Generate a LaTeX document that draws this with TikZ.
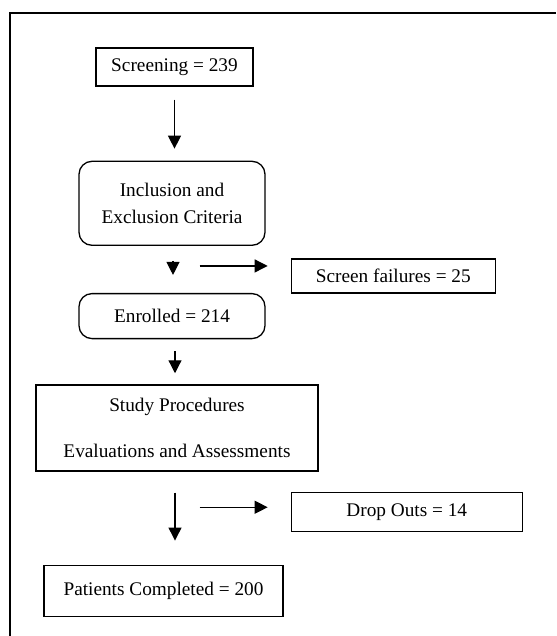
\documentclass[tikz,border=0pt]{standalone}
\usepackage{fontspec}
\setmainfont{Liberation Serif}
\usetikzlibrary{arrows.meta,positioning}
\tikzstyle{block} = [
  rectangle, draw, line width = 0.65pt, text centered, inner sep = 0pt,
  font = \fontsize{9.64}{11.5}\selectfont, align = center
]
\tikzstyle{rblock} = [block, rounded corners = 6.5pt]
\tikzstyle{arr} = [
  line width = 0.6pt, -{Triangle[length=6.5pt, width=6.5pt]}
]

\begin{document}
\begin{tikzpicture}
    \useasboundingbox (0,0) rectangle (278pt,-318pt);
    \draw[line width = 0.6pt] (5pt,-318pt) -- (5pt,-6.5pt) -- (278pt,-6.5pt);

    \node[block, minimum width = 78.5pt, minimum height = 19pt] (screen)
      at (87.25pt,-33.5pt) {Screening = 239};
    \node[rblock, below=37pt of screen, xshift=-1.25pt,
      minimum width = 93pt, minimum height = 42pt] (incl)
      {Inclusion and\\[2pt]Exclusion Criteria};
    \node[rblock, below=23.5pt of incl,
      minimum width = 93pt, minimum height = 22.5pt] (enrol) {Enrolled = 214};
    \node[block, right=12.5pt of enrol.north east, yshift=8.5pt,
      minimum width = 102pt, minimum height = 17pt] (sfail) {Screen failures = 25};
    \node[block, below=22.5pt of enrol, xshift=2.5pt,
      minimum width = 141pt, minimum height = 43pt] (study)
      {Study Procedures\\[11.5pt]Evaluations and Assessments};
    \node[block, below=99pt of sfail.south west, anchor=north west,
      minimum width = 115.5pt, minimum height = 19.5pt] (drop) {Drop Outs = 14};
    \node[block, below=46.5pt of study, xshift=-6.75pt,
      minimum width = 119.5pt, minimum height = 25.5pt] (patient)
      {Patients Completed = 200};

    \coordinate[left=45.5pt of sfail.west, yshift=5pt] (failtail);
    \coordinate[left=45.5pt of drop.west, yshift=2.25pt] (droptail);

    \draw[arr, shorten <=6.5pt, shorten >=6pt] (screen.south) -- (screen.south |- incl.north);
    \draw[arr, shorten <=7.5pt, shorten >=9pt] ([xshift=0.5pt]incl.south) -- ([xshift=0.5pt]incl.south |- enrol.north);
    \draw[arr, shorten >=11.5pt] (failtail) -- (failtail -| sfail.west);
    \draw[arr, shorten <=6pt, shorten >=5.5pt] ([xshift=1.5pt]enrol.south) -- ([xshift=1.5pt]enrol.south |- study.north);
    \draw[arr, shorten <=10.5pt, shorten >=12pt] ([xshift=-1pt]study.south) -- ([xshift=-1pt]study.south |- patient.north);
    \draw[arr, shorten >=11.5pt] (droptail) -- (droptail -| drop.west);
\end{tikzpicture}
\end{document}
